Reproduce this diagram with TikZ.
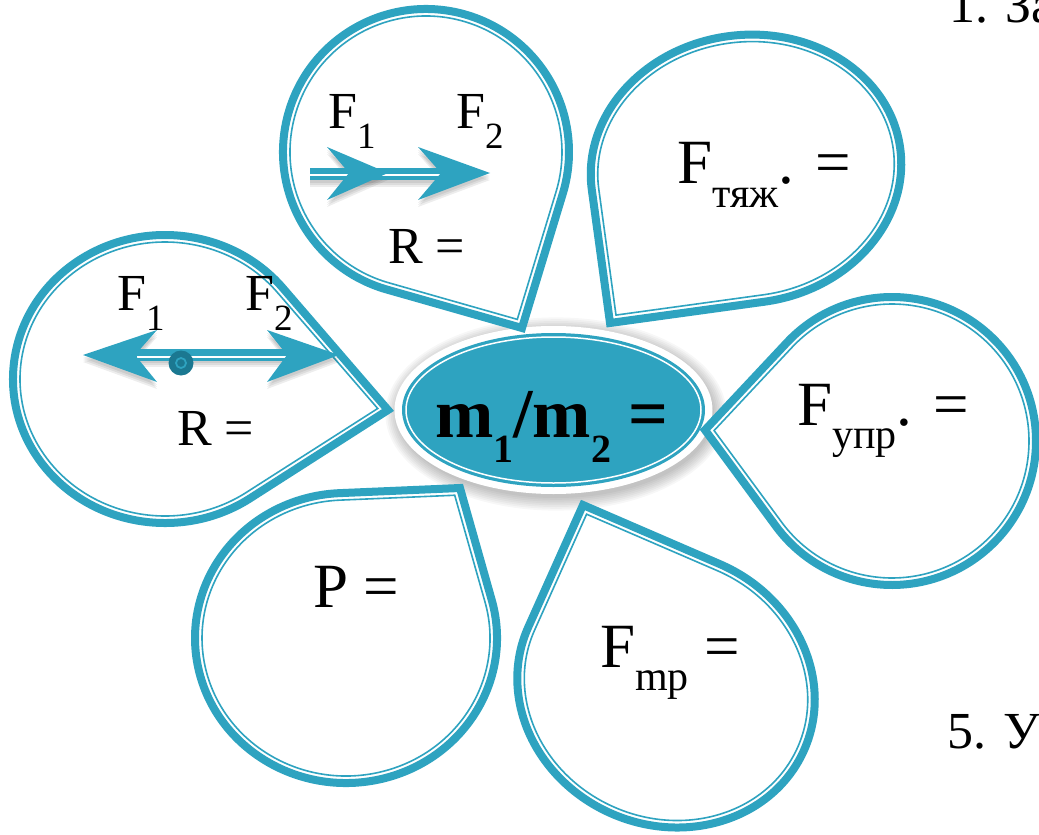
\documentclass[tikz,border=0pt]{standalone}
\usepackage{fontspec}
\setmainfont{Liberation Serif}
\definecolor{petalteal}{HTML}{2EA3C0}
\definecolor{dotteal}{HTML}{1B7891}
\newcommand\fs[1]{\fontsize{#1}{#1}\selectfont}
\newcommand\lsub[3]{\raisebox{-#1pt}{\fs{#2}#3}}
\def\pin{7}
\tikzset{
  petalouter/.style={draw=petalteal, line width=8pt, fill=white, line join=miter},
  petalinner/.style={draw=petalteal, line width=1.6pt},
  lbl/.style={anchor=base west, inner sep=0pt, text=black},
  arrowfill/.style={fill=petalteal},
  arrowshadow/.style={fill=black, opacity=0.07},
}
% #1 name, #2 cx, #3 cy (image), #4 rx, #5 ry, #6 rotation, #7 tip x, #8 tip y (image)
\newcommand\petal[8]{%
  \pgfmathsetmacro\pdx{#7-(#2)}%
  \pgfmathsetmacro\pdy{(#3)-(#8)}%
  \pgfmathsetmacro\plx{(\pdx)*cos(#6)+(\pdy)*sin(#6)}%
  \pgfmathsetmacro\ply{0-(\pdx)*sin(#6)+(\pdy)*cos(#6)}%
  \pgfmathsetmacro\pux{(\plx)/(#4)}%
  \pgfmathsetmacro\puy{(\ply)/(#5)}%
  \pgfmathsetmacro\pth{atan2(\puy,\pux)}%
  \pgfmathsetmacro\pk{sqrt((\pux)*(\pux)+(\puy)*(\puy))}%
  \pgfmathsetmacro\pal{acos(1/\pk)}%
  \pgfmathsetmacro\pa{\pth+\pal}%
  \pgfmathsetmacro\pb{\pth-\pal}%
  \pgfmathsetmacro\pd{2*\pal-360}%
  \pgfmathsetmacro\irx{#4-\pin}%
  \pgfmathsetmacro\iry{#5-\pin}%
  \pgfmathsetmacro\ilx{(\pux)*\irx}%
  \pgfmathsetmacro\ily{(\puy)*\iry}%
  \begin{scope}[shift={(#2,-#3)},rotate=#6]
    \draw[petalouter] ({#4*cos(\pa)},{#5*sin(\pa)}) -- (\plx,\ply) coordinate (#1)
      -- ({#4*cos(\pb)},{#5*sin(\pb)})
      arc[start angle=\pb, delta angle=\pd, x radius=#4, y radius=#5] -- cycle;
    \draw[petalinner] ({\irx*cos(\pa)},{\iry*sin(\pa)}) -- (\ilx,\ily)
      -- ({\irx*cos(\pb)},{\iry*sin(\pb)})
      arc[start angle=\pb, delta angle=\pd, x radius=\irx, y radius=\iry] -- cycle;
  \end{scope}}
\begin{document}
\begin{tikzpicture}[x=1pt,y=1pt]
\fill[white] (0,0) rectangle (1039,-835);
\useasboundingbox (0,0) rectangle (1039,-835);

% central ellipse
\foreach \i in {0,...,7}
  \fill[black, opacity=0.03] (556,-414) ellipse [x radius={158+\i*1.8}, y radius={84+\i*1.8}];
\fill[white] (553.5,-410) ellipse [x radius=159, y radius=84];
\fill[petalteal] (553.5,-410) ellipse [x radius=151.5, y radius=77];
\draw[white, line width=1.5pt] (553.5,-410) ellipse [x radius=147.5, y radius=73];

% petals
\petal{tip1}{426}{152}{143}{143}{0}{522}{328}
\petal{tip2}{746}{169}{155.6}{134}{7.6}{610}{323}
\petal{tip3}{892}{441}{144}{144}{0}{705}{430}
\petal{tip4}{666}{689}{151}{136}{-23.5}{583}{505}
\petal{tip5}{346}{638}{151}{145}{0}{460}{488}
\petal{tip6}{165}{379}{152}{144}{0}{388}{410}

% arrows in top petal
\foreach \s in {3,5,7}{
  \fill[arrowshadow] (310,-168-\s) rectangle (445,-180-\s);
  \fill[arrowshadow] (327,-147-\s) -- (388,-173-\s) -- (327,-200-\s) -- (349,-173-\s) -- cycle;
  \fill[arrowshadow] (418,-147-\s) -- (490,-173-\s) -- (418,-200-\s) -- (441,-173-\s) -- cycle;
}
\fill[arrowfill] (310,-168) rectangle (445,-180);
\draw[white, line width=1.6pt] (310,-175) -- (440,-175);
\fill[arrowfill] (327,-147) -- (388,-173) -- (327,-200) -- (349,-173) -- cycle;
\fill[arrowfill] (418,-147) -- (490,-173) -- (418,-200) -- (441,-173) -- cycle;

% arrows in left petal
\foreach \s in {3,5,7}{
  \fill[arrowshadow] (135,-350-\s) rectangle (290,-360-\s);
  \fill[arrowshadow] (157,-330-\s) -- (83,-355-\s) -- (157,-382-\s) -- (135,-355-\s) -- cycle;
  \fill[arrowshadow] (267,-330-\s) -- (339,-355-\s) -- (267,-382-\s) -- (287,-355-\s) -- cycle;
}
\fill[arrowfill] (135,-349) rectangle (290,-361);
\draw[white, line width=1.6pt] (137,-357) -- (286,-357);
\fill[arrowfill] (157,-330) -- (83,-355) -- (157,-382) -- (135,-355) -- cycle;
\fill[arrowfill] (267,-330) -- (339,-355) -- (267,-382) -- (287,-355) -- cycle;
\fill[dotteal] (181,-363) circle [radius=12.5];
\draw[petalteal, line width=1.8pt] (181,-363) circle [radius=5];
\fill[dotteal] (181,-363) circle [radius=2];

% labels
\node[lbl, font=\fs{52}] (p1f1) at (328,-128) {F\lsub{20}{37}{1}};
\node[lbl, font=\fs{52}] (p1f2) at (456,-128) {F\lsub{20}{37}{2}};
\node[lbl, font=\fs{52}] (p1r) at (388,-263) {R =};
\node[lbl, font=\fs{52}] (p6f1) at (117,-310) {F\lsub{20}{37}{1}};
\node[lbl, font=\fs{52}] (p6f2) at (245,-310) {F\lsub{20}{37}{2}};
\node[lbl, font=\fs{52}] (p6r) at (177,-445) {R =};
\node[lbl, font=\fs{63}] (p2) at (677,-183) {F\lsub{24}{42}{тяж}. =};
\node[lbl, font=\fs{63}] (p3) at (797,-425) {F\lsub{23}{42}{упр}. =};
\node[lbl, font=\fs{63}] (p4) at (600,-667) {F\lsub{23}{42}{mp} =};
\node[lbl, font=\fs{63}] (p5) at (313,-607) {P =};
\node[lbl, font=\bfseries\fs{70}] (ratio) at (435,-437) {m\lsub{25}{40}{1}/m\lsub{25}{40}{2} =};
\node[lbl, font=\fs{52}] (item1) at (949,-22) {1. За};
\node[lbl, font=\fs{52}] (item5) at (947,-748) {5. У};
\end{tikzpicture}
\end{document}
